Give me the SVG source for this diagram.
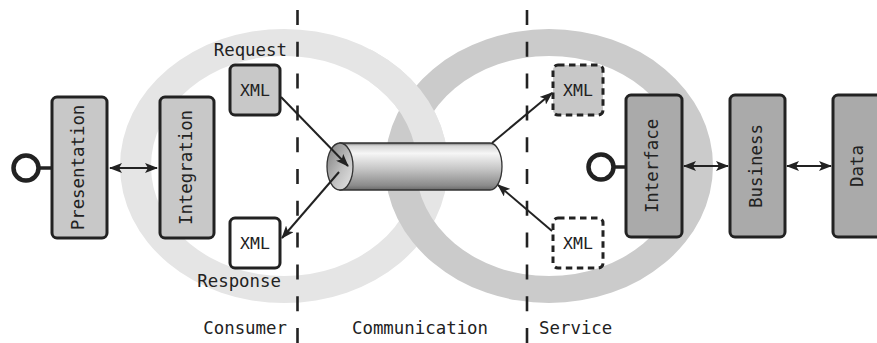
<svg xmlns="http://www.w3.org/2000/svg" width="877" height="343" viewBox="0 0 877 343">
<style>
.lbl{font-family:"DejaVu Sans Mono","Liberation Mono",monospace;font-size:17.4px;fill:#222}
.xml{font-family:"DejaVu Sans Mono","Liberation Mono",monospace;font-size:16.5px;fill:#222;text-anchor:middle}
.box{stroke:#222;stroke-width:3}
.lt{fill:#c8c8c8}
.dk{fill:#aaaaaa}
.dash{stroke:#222;stroke-width:2.6;stroke-dasharray:15 16.8;fill:none}
.con{stroke:#222;stroke-width:2;fill:none}
.xdash{stroke:#222;stroke-width:3;stroke-dasharray:6.5 4.5}
</style>
<defs>
<marker id="ah" markerUnits="userSpaceOnUse" markerWidth="14" markerHeight="10" refX="12" refY="5" orient="auto-start-reverse">
<path d="M0,0 L13,5 L0,10 L3,5 Z" fill="#222"/>
</marker>
<linearGradient id="body" x1="0" y1="0" x2="0" y2="1">
<stop offset="0" stop-color="#6a6a6a"/>
<stop offset="0.06" stop-color="#d6d6d6"/>
<stop offset="0.22" stop-color="#f6f6f6"/>
<stop offset="0.55" stop-color="#c6c6c6"/>
<stop offset="0.9" stop-color="#8c8c8c"/>
<stop offset="1" stop-color="#6a6a6a"/>
</linearGradient>
<linearGradient id="face" x1="0" y1="0" x2="1" y2="1">
<stop offset="0" stop-color="#7c7c7c"/>
<stop offset="0.6" stop-color="#c4c4c4"/>
<stop offset="1" stop-color="#e6e6e6"/>
</linearGradient>
<path id="ringL" fill-rule="evenodd" d="M120,166 a164,137 0 1 0 328,0 a164,137 0 1 0 -328,0 Z M151,166 a133,110 0 1 0 266,0 a133,110 0 1 0 -266,0 Z"/>
<clipPath id="topX"><rect x="370" y="20" width="100" height="146"/></clipPath>
</defs>

<g id="rings">
<use href="#ringL" fill="#e5e5e5"/>
<path id="ringR" fill="#cbcbcb" fill-rule="evenodd" d="M385,166 a164,137 0 1 0 328,0 a164,137 0 1 0 -328,0 Z M416,166 a133,110 0 1 0 266,0 a133,110 0 1 0 -266,0 Z"/>
<use href="#ringL" fill="#e5e5e5" clip-path="url(#topX)"/>
</g>

<g id="dividers">
<line class="dash" x1="297.5" y1="10" x2="297.5" y2="343"/>
<line class="dash" x1="527" y1="10" x2="527" y2="343"/>
</g>

<g id="presentation">
<line x1="38" y1="168" x2="52" y2="168" stroke="#222" stroke-width="3.5"/>
<circle cx="26" cy="168" r="12.5" fill="#fff" stroke="#222" stroke-width="4.5"/>
<rect class="box lt" x="52" y="97" width="55" height="141" rx="5"/>
<text class="lbl" text-anchor="middle" transform="translate(84,167.5) rotate(-90)">Presentation</text>
</g>

<g id="integration">
<rect class="box lt" x="160" y="97" width="54" height="141" rx="5"/>
<text class="lbl" text-anchor="middle" transform="translate(191.5,167.5) rotate(-90)">Integration</text>
</g>

<g id="request">
<text class="lbl" x="287" y="56" text-anchor="end">Request</text>
<rect class="box lt" x="230" y="65" width="50" height="50" rx="5"/>
<text class="xml" x="255" y="96">XML</text>
</g>

<g id="response">
<rect class="box" fill="#fff" x="230" y="218" width="50" height="50" rx="5"/>
<text class="xml" x="255" y="249">XML</text>
<text class="lbl" x="281" y="287" text-anchor="end">Response</text>
</g>

<g id="pipe">
<path d="M340,143 L490,143 A12,23.5 0 0 1 490,190 L340,190 Z" fill="url(#body)" stroke="#333" stroke-width="1.3"/>
<ellipse cx="340" cy="166.5" rx="13" ry="23.5" fill="url(#face)" stroke="#333" stroke-width="1.3"/>
</g>

<g id="service-request">
<rect class="xdash" fill="#c8c8c8" x="553" y="65" width="50" height="50" rx="5"/>
<text class="xml" x="578" y="96">XML</text>
</g>

<g id="service-response">
<rect class="xdash" fill="#fff" x="553" y="218" width="50" height="50" rx="5"/>
<text class="xml" x="578" y="249">XML</text>
</g>

<g id="interface">
<line x1="613" y1="167" x2="626" y2="167" stroke="#222" stroke-width="3.5"/>
<circle cx="601" cy="167" r="12.5" fill="#fff" stroke="#222" stroke-width="4.5"/>
<rect class="box dk" x="626" y="95" width="56" height="142" rx="5"/>
<text class="lbl" text-anchor="middle" transform="translate(658,166) rotate(-90)">Interface</text>
</g>

<g id="business">
<rect class="box dk" x="730" y="95" width="55" height="142" rx="5"/>
<text class="lbl" text-anchor="middle" transform="translate(762,166) rotate(-90)">Business</text>
</g>

<g id="data">
<rect class="box dk" x="833" y="95" width="55" height="142" rx="5"/>
<text class="lbl" text-anchor="middle" transform="translate(863,166) rotate(-90)">Data</text>
</g>

<g id="connectors">
<line class="con" x1="110" y1="168" x2="157" y2="168" marker-start="url(#ah)" marker-end="url(#ah)"/>
<line class="con" x1="684" y1="166" x2="728" y2="166" marker-start="url(#ah)" marker-end="url(#ah)"/>
<line class="con" x1="787" y1="166" x2="831" y2="166" marker-start="url(#ah)" marker-end="url(#ah)"/>
<line class="con" x1="281" y1="97" x2="348" y2="166" marker-end="url(#ah)"/>
<line class="con" x1="339" y1="172" x2="282" y2="238" marker-end="url(#ah)"/>
<line class="con" x1="492" y1="143" x2="552" y2="93" marker-end="url(#ah)"/>
<line class="con" x1="552" y1="231" x2="498" y2="185" marker-end="url(#ah)"/>
</g>

<g id="zones">
<text class="lbl" x="287" y="334" text-anchor="end">Consumer</text>
<text class="lbl" x="420" y="334" text-anchor="middle">Communication</text>
<text class="lbl" x="539" y="334">Service</text>
</g>
</svg>
